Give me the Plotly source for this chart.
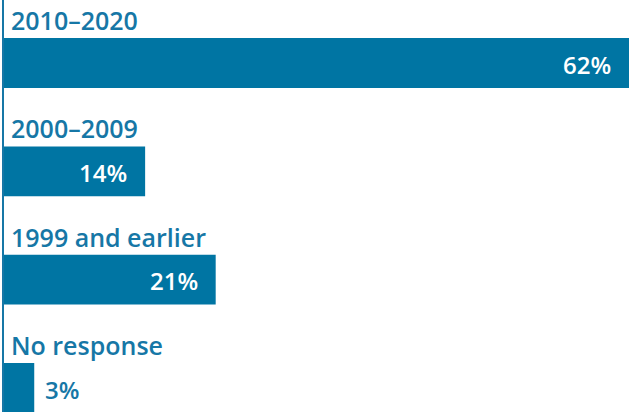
import plotly.graph_objects as go

categories = ["2010–2020", "2000–2009", "1999 and earlier", "No response"]
values = [62, 14, 21, 3]
value_labels = ["62%", "14%", "21%", "3%"]

BAR = "#0075a3"
TXT = "#1677a6"
FONT = "Open Sans"

fig = go.Figure(go.Bar(
    x=values, y=categories, orientation="h",
    marker=dict(color=BAR, line=dict(width=0)),
    width=0.46, hoverinfo="skip",
))

anns = []
for c, v, lab in zip(categories, values, value_labels):
    anns.append(dict(x=0, y=c, xref="x", yref="y", text=c, showarrow=False,
                     xanchor="left", yanchor="middle", xshift=5, yshift=43,
                     font=dict(family=FONT, size=25, color=TXT, weight=600)))
    if v >= 8:
        anns.append(dict(x=v, y=c, xref="x", yref="y", text=lab, showarrow=False,
                         xanchor="right", yanchor="middle", xshift=-16, yshift=-1,
                         font=dict(family=FONT, size=24, color="white", weight=600)))
    else:
        anns.append(dict(x=v, y=c, xref="x", yref="y", text=lab, showarrow=False,
                         xanchor="left", yanchor="middle", xshift=9, yshift=-1,
                         font=dict(family=FONT, size=24, color=TXT, weight=600)))

fig.update_layout(
    width=629, height=412,
    margin=dict(l=4, r=0, t=0, b=0),
    paper_bgcolor="white", plot_bgcolor="white",
    showlegend=False,
    annotations=anns,
    xaxis=dict(range=[0, 62], visible=False, fixedrange=True, automargin=False),
    yaxis=dict(type="category", range=[3.2215, -0.5815], showticklabels=False,
               showgrid=False, zeroline=False, showline=True, linecolor=TXT,
               linewidth=1.5, ticks="", automargin=False),
)

fig.write_html("out.html")
